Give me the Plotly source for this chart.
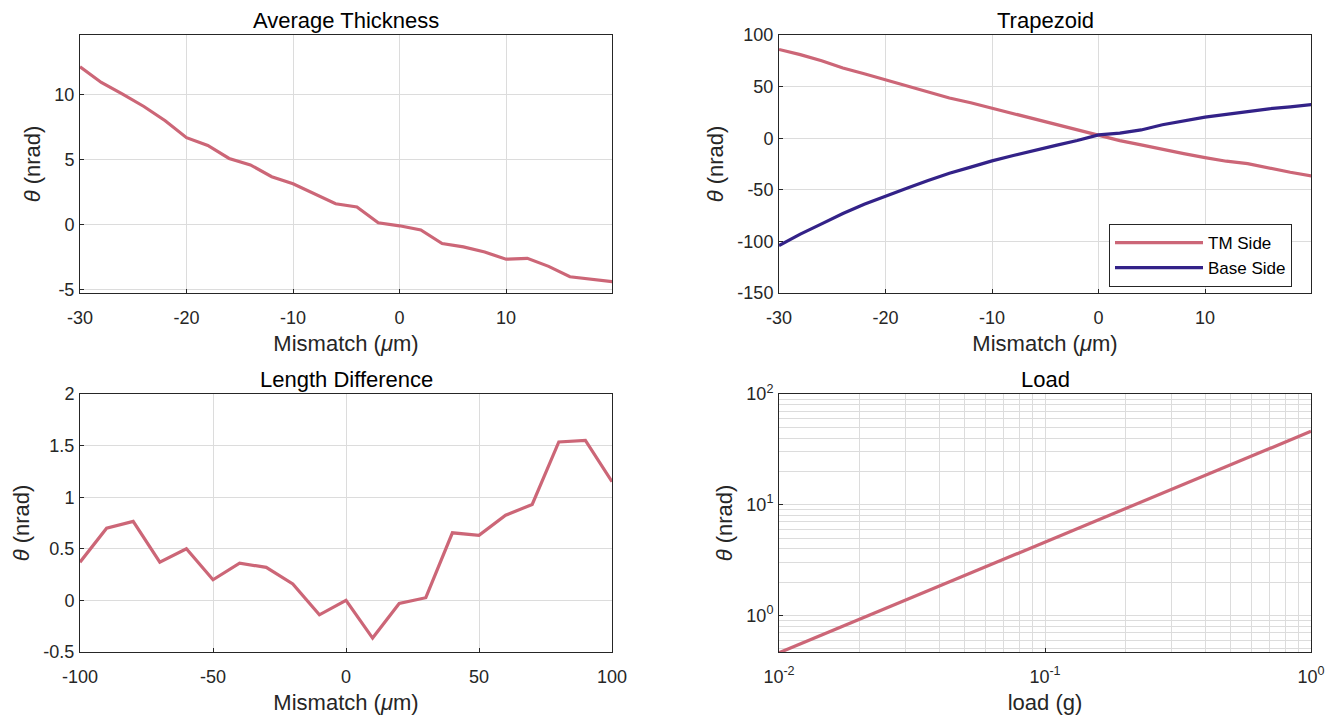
import plotly.graph_objects as go

# ---------------- data ----------------
thick_x = [-30, -28, -26, -24, -22, -20, -18, -16, -14, -12, -10, -8, -6, -4, -2,
           0, 2, 4, 6, 8, 10, 12, 14, 16, 18, 20]
thick_y = [12.16, 10.95, 10.05, 9.1, 8.0, 6.7, 6.1, 5.1, 4.6, 3.7, 3.15, 2.4, 1.62, 1.37, 0.15,
           -0.08, -0.4, -1.44, -1.7, -2.1, -2.65, -2.58, -3.2, -4.0, -4.17, -4.38]

trap_x = thick_x
trap_tm = [86, 81, 75, 68, 62.5, 56.6, 50.5, 44.7, 39, 34.3, 29, 24, 18.8, 13.6, 8.4,
           3.2, -2.3, -6.5, -11, -14.9, -18.8, -22.3, -24.6, -29, -33, -36.6]
trap_base = [-104, -93, -83, -73, -64, -56, -48.5, -41, -34, -28, -22, -16.8, -11.7, -7, -2.3,
             3.2, 4.9, 8, 13, 17, 20.4, 23, 26, 28.5, 30.4, 32.6]

len_x = [-100, -90, -80, -70, -60, -50, -40, -30, -20, -10, 0, 10, 20, 30, 40, 50, 60, 70, 80, 90, 100]
len_y = [0.37, 0.70, 0.765, 0.37, 0.50, 0.20, 0.36, 0.32, 0.16, -0.14, 0.0, -0.365, -0.03, 0.026,
         0.655, 0.63, 0.825, 0.93, 1.535, 1.55, 1.15]

load_x = [0.01, 0.02, 0.05, 0.1, 0.2, 0.5, 1.0]
load_y = [0.46, 0.92, 2.3, 4.6, 9.2, 23, 46]

titles = ["Average Thickness", "Trapezoid", "Length Difference", "Load"]
series_names = ["TM Side", "Base Side"]

mis_ticks = [-30, -20, -10, 0, 10]
mis_labels = ["-30", "-20", "-10", "0", "10"]
thick_yticks = [-5, 0, 5, 10]
thick_ylabels = ["-5", "0", "5", "10"]
trap_yticks = [-150, -100, -50, 0, 50, 100]
trap_ylabels = ["-150", "-100", "-50", "0", "50", "100"]
len_ticks = [-100, -50, 0, 50, 100]
len_labels = ["-100", "-50", "0", "50", "100"]
len_yticks = [-0.5, 0, 0.5, 1, 1.5, 2]
len_ylabels = ["-0.5", "0", "0.5", "1", "1.5", "2"]
load_xticks = [0.01, 0.1, 1]
load_xlabels = ["10<sup>-2</sup>", "10<sup>-1</sup>", "10<sup>0</sup>"]
load_yticks = [1, 10, 100]
load_ylabels = ["10<sup>0</sup>", "10<sup>1</sup>", "10<sup>2</sup>"]

# ---------------- style ----------------
W, H = 1340, 721
PINK = "#CC6677"
BLUE = "#332288"
TXT = "#262626"
GRID = "#DCDCDC"
FONT = "Liberation Sans, Arial, Helvetica, sans-serif"
TICK_SIZE = 18
LABEL_SIZE = 22
LW = 3.2

def xd(a, b):
    return [a / W, b / W]

def yd(top, bot):
    return [1 - bot / H, 1 - top / H]

XL, XR = xd(80, 612), xd(779, 1311)
YT, YB = yd(35, 293), yd(394, 652)

fig = go.Figure()
fig.add_trace(go.Scatter(x=thick_x, y=thick_y, mode="lines", line=dict(color=PINK, width=LW),
                         xaxis="x", yaxis="y", showlegend=False))
fig.add_trace(go.Scatter(x=trap_x, y=trap_tm, mode="lines", line=dict(color=PINK, width=LW),
                         xaxis="x2", yaxis="y2", name=series_names[0]))
fig.add_trace(go.Scatter(x=trap_x, y=trap_base, mode="lines", line=dict(color=BLUE, width=LW),
                         xaxis="x2", yaxis="y2", name=series_names[1]))
fig.add_trace(go.Scatter(x=len_x, y=len_y, mode="lines", line=dict(color=PINK, width=LW),
                         xaxis="x3", yaxis="y3", showlegend=False))
fig.add_trace(go.Scatter(x=load_x, y=load_y, mode="lines", line=dict(color=PINK, width=LW),
                         xaxis="x4", yaxis="y4", showlegend=False))

common = dict(showline=True, mirror=True, linecolor="#262626", linewidth=1,
              showgrid=True, gridcolor=GRID, gridwidth=1, zeroline=False,
              ticks="inside", ticklen=4, tickcolor="#262626", automargin=False,
              tickfont=dict(size=TICK_SIZE, color=TXT, family=FONT))
xcommon = dict(common, ticklabelstandoff=8, title_standoff=9)
ycommon = dict(common, ticklabelstandoff=1, title_standoff=7)

def ttl(text):
    return dict(text=text, font=dict(size=LABEL_SIZE, color=TXT, family=FONT))

ytitle = "<i>θ</i> (nrad)"
xtitle = "Mismatch (<i>μ</i>m)"

minor_log_x = [m * d for d in (0.01, 0.1) for m in range(2, 10)]
minor_log_y = [m * d for d in (0.1, 1, 10) for m in range(2, 10)]

fig.update_layout(
    width=W, height=H,
    margin=dict(l=0, r=0, t=0, b=0),
    paper_bgcolor="white", plot_bgcolor="white",
    font=dict(family=FONT, color=TXT),
    xaxis=dict(domain=XL, anchor="y", range=[-30, 19.95], tickvals=mis_ticks, ticktext=mis_labels,
               title=ttl(xtitle), **xcommon),
    yaxis=dict(domain=YT, anchor="x", range=[-5.25, 14.6], tickvals=thick_yticks,
               ticktext=thick_ylabels, title=ttl(ytitle), **ycommon),
    xaxis2=dict(domain=XR, anchor="y2", range=[-30, 19.95], tickvals=mis_ticks, ticktext=mis_labels,
                title=ttl(xtitle), **xcommon),
    yaxis2=dict(domain=YT, anchor="x2", range=[-150, 100], tickvals=trap_yticks,
                ticktext=trap_ylabels, title=ttl(ytitle), **ycommon),
    xaxis3=dict(domain=XL, anchor="y3", range=[-100, 100], tickvals=len_ticks, ticktext=len_labels,
                title=ttl(xtitle), **xcommon),
    yaxis3=dict(domain=YB, anchor="x3", range=[-0.5, 2], tickvals=len_yticks,
                ticktext=len_ylabels, title=ttl(ytitle), **ycommon),
    xaxis4=dict(domain=XR, anchor="y4", type="log", range=[-2, 0], tickvals=load_xticks,
                ticktext=load_xlabels,
                minor=dict(tickvals=minor_log_x, showgrid=True, gridcolor=GRID, ticks=""),
                title=ttl("load (g)"), **xcommon),
    yaxis4=dict(domain=YB, anchor="x4", type="log", range=[-0.33, 2], tickvals=load_yticks,
                ticktext=load_ylabels,
                minor=dict(tickvals=minor_log_y, showgrid=True, gridcolor=GRID, ticks=""),
                title=ttl(ytitle), **ycommon),
    legend=dict(x=1292 / W, y=1 - 224 / H, xanchor="right", yanchor="top",
                bgcolor="white", bordercolor="#262626", borderwidth=1,
                itemwidth=88, tracegroupgap=0,
                font=dict(size=17, color="black", family=FONT)),
)

# subplot titles
for t, xdom, ydom in zip(titles, [XL, XR, XL, XR], [YT, YT, YB, YB]):
    fig.add_annotation(text=t, x=(xdom[0] + xdom[1]) / 2, y=ydom[1], xref="paper", yref="paper",
                       xanchor="center", yanchor="bottom", yshift=0, showarrow=False,
                       font=dict(size=LABEL_SIZE, color="black", family=FONT))

fig.write_html("out.html", config={"displayModeBar": False},
               post_script="document.body.style.margin='0';document.body.style.padding='0';")
